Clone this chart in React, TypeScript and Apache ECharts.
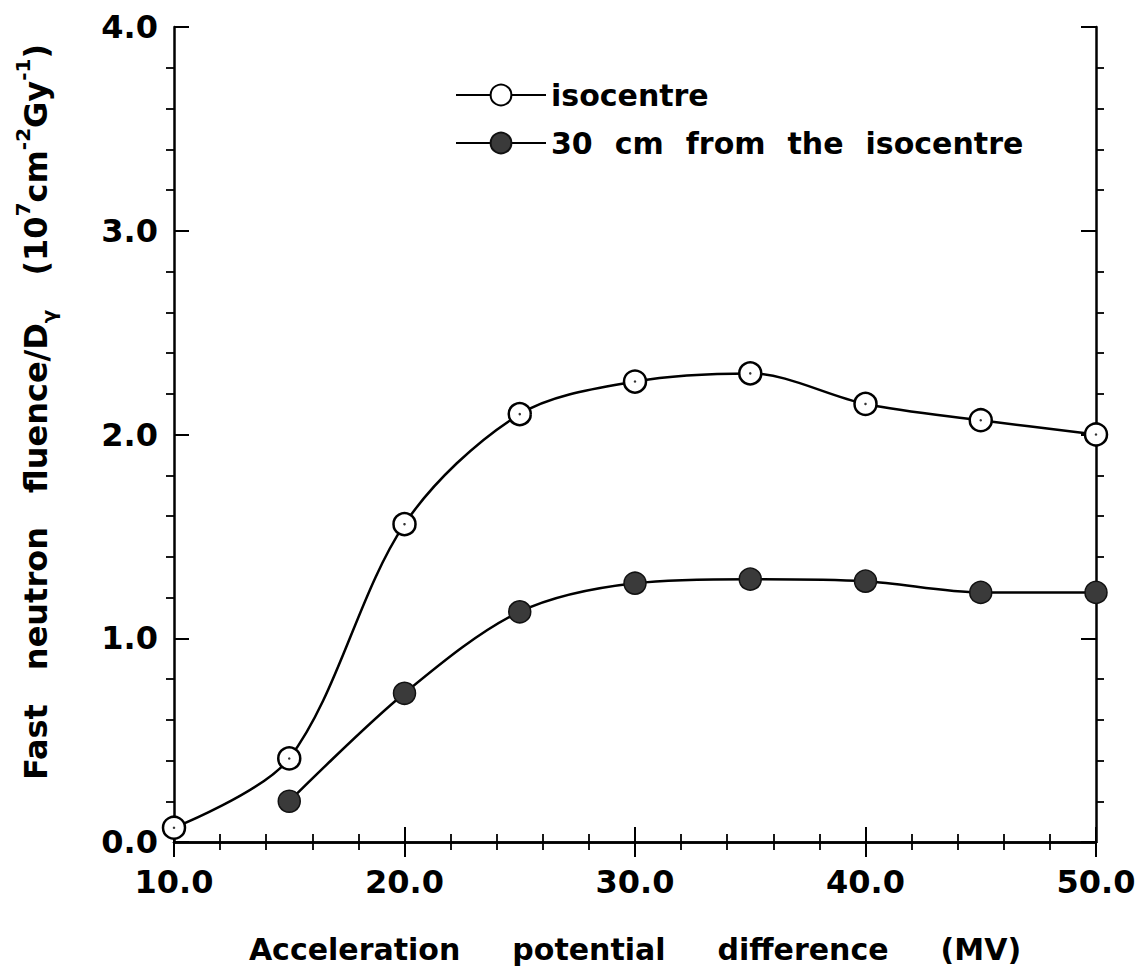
import React, { useEffect, useRef } from "react";
import * as echarts from "echarts";

const isoX = [10, 15, 20, 25, 30, 35, 40, 45, 50];
const isoValues = [0.07, 0.41, 1.56, 2.1, 2.26, 2.3, 2.15, 2.07, 2.0];
const cm30X = [15, 20, 25, 30, 35, 40, 45, 50];
const cm30Values = [0.2, 0.73, 1.13, 1.27, 1.29, 1.28, 1.225, 1.225];
const seriesNames = ["isocentre", "30 cm from the isocentre"];
const xTitleWords = ["Acceleration", "potential", "difference", "(MV)"];

const FONT = "'DejaVu Sans', 'Liberation Sans', Arial, sans-serif";

const spaced = (words: string[], tok: string, gap: string) =>
  words.map((w) => `{${tok}|${w}}`).join(`{${gap}| }`);

export default function App() {
  const ref = useRef<HTMLDivElement>(null);
  useEffect(() => {
    document.body.style.margin = "0";
    const chart = echarts.init(ref.current!, null, { renderer: "svg" });
    const axisLine = { show: true, lineStyle: { color: "#000", width: 2.5 } };
    const tick = { show: true, inside: true, length: 15, lineStyle: { color: "#000", width: 2 } };
    const minor = { show: true, splitNumber: 5, length: -8, lineStyle: { color: "#000", width: 1.8 } };
    const labelStyle = { color: "#000", fontFamily: FONT, fontWeight: "bold" as const, fontSize: 32 };
    const txt = { fontFamily: FONT, fontWeight: "bold" as const, fontSize: 30, color: "#000" };
    const yt = { fontFamily: FONT, fontWeight: "bold" as const, fill: "#000", lineHeight: 46 };
    chart.setOption({
      animation: false,
      backgroundColor: "#fff",
      grid: { left: 174, right: 46, top: 27, bottom: 129, containLabel: false },
      legend: {
        orient: "vertical",
        left: 455,
        top: 80,
        padding: 0,
        itemWidth: 90,
        itemHeight: 26,
        itemGap: 18,
        formatter: (name: string) => spaced(name.split(" "), "t", "g"),
        textStyle: {
          ...txt,
          rich: {
            t: { ...txt },
            g: { ...txt, width: 22 },
          },
        },
        data: seriesNames,
      },
      xAxis: [
        {
          type: "value",
          min: 10,
          max: 50,
          interval: 10,
          axisLine,
          axisTick: tick,
          minorTick: minor,
          splitLine: { show: false },
          axisLabel: { ...labelStyle, margin: 24, formatter: (v: number) => v.toFixed(1) },
          name: spaced(xTitleWords, "w", "g"),
          nameLocation: "middle",
          nameGap: 92,
          nameTextStyle: {
            ...txt,
            rich: {
              w: { ...txt },
              g: { ...txt, width: 52 },
            },
          },
        },
        {
          type: "value",
          position: "top",
          min: 10,
          max: 50,
          interval: 10,
          axisLine,
          axisTick: tick,
          minorTick: minor,
          splitLine: { show: false },
          axisLabel: { show: false },
        },
      ],
      yAxis: [
        {
          type: "value",
          min: 0,
          max: 4,
          interval: 1,
          axisLine,
          axisTick: tick,
          minorTick: minor,
          splitLine: { show: false },
          axisLabel: { ...labelStyle, margin: 16, formatter: (v: number) => v.toFixed(1) },
        },
        {
          type: "value",
          position: "right",
          min: 0,
          max: 4,
          interval: 1,
          axisLine,
          axisTick: tick,
          minorTick: minor,
          splitLine: { show: false },
          axisLabel: { show: false },
        },
      ],
      graphic: [
        {
          type: "text",
          x: 36,
          y: 412,
          rotation: Math.PI / 2,
          style: {
            text:
              "{b|Fast}{g| }{b|neutron}{g| }{b|fluence/D}{sub|γ}{g| }{b|(10}{sup|7}{b|cm}{sup|-2}{b|Gy}{sup|-1}{b|)}",
            align: "center",
            verticalAlign: "middle",
            fill: "#000",
            rich: {
              b: { ...yt, fontSize: 32, verticalAlign: "middle" },
              g: { ...yt, fontSize: 32, verticalAlign: "middle", width: 34 },
              sub: { ...yt, fontSize: 20, verticalAlign: "bottom" },
              sup: { ...yt, fontSize: 20, verticalAlign: "top" },
            },
          },
        },
      ],
      series: [
        {
          name: seriesNames[0],
          type: "line",
          smooth: 0.32,
          data: isoX.map((x, i) => [x, isoValues[i]]),
          symbol: "circle",
          symbolSize: 22,
          itemStyle: { color: "#fff", borderColor: "#000", borderWidth: 2.5 },
          lineStyle: { color: "#000", width: 2.5 },
          z: 3,
        },
        {
          name: seriesNames[1],
          type: "line",
          smooth: 0.32,
          data: cm30X.map((x, i) => [x, cm30Values[i]]),
          symbol: "circle",
          symbolSize: 22,
          itemStyle: { color: "#3a3a3a", borderColor: "#111", borderWidth: 1.5 },
          lineStyle: { color: "#000", width: 2.5 },
          z: 3,
        },
        {
          name: "isocentre-dot",
          type: "scatter",
          data: isoX.map((x, i) => [x, isoValues[i]]),
          symbol: "circle",
          symbolSize: 2.5,
          itemStyle: { color: "#000" },
          silent: true,
          z: 5,
        },
      ],
    });
    return () => chart.dispose();
  }, []);
  return <div ref={ref} style={{ width: 1142, height: 971 }} />;
}
